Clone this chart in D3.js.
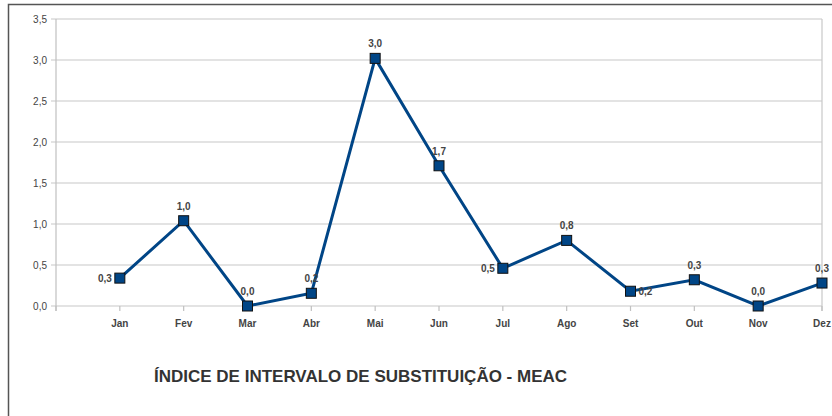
<!DOCTYPE html>
<html><head><meta charset="utf-8">
<script src="https://cdn.jsdelivr.net/npm/d3@7"></script>
<style>body{margin:0;background:#fff;}svg{display:block;font-family:"Liberation Sans",Arial,sans-serif;}</style>
</head><body><svg id="c" width="832" height="416"></svg>
<script>
const months = ["Jan","Fev","Mar","Abr","Mai","Jun","Jul","Ago","Set","Out","Nov","Dez"];
const values = [0.34,1.04,0.0,0.155,3.02,1.71,0.46,0.80,0.18,0.32,0.0,0.28];
const labelPos = ["left","top","top","top","top","top","left","top","right","top","top","top"];
const yTicks = [0,0.5,1,1.5,2,2.5,3,3.5];
const title = "ÍNDICE DE INTERVALO DE SUBSTITUIÇÃO - MEAC";

const svg = d3.select("#c");
const fmt = v => d3.format(".1f")(v).replace(".", ",");

// outer frame
svg.append("rect").attr("x",8.5).attr("y",4.5).attr("width",900).attr("height",500)
  .attr("fill","none").attr("stroke","#555").attr("stroke-width",1.5);

const x = d3.scaleLinear().domain([0,12]).range([56,822]);
const y = d3.scaleLinear().domain([0,3.5]).range([306,19]);

// gridlines
svg.append("g").selectAll("line").data(yTicks).join("line")
  .attr("x1",x(0)-5).attr("x2",x(12)).attr("y1",d=>y(d)).attr("y2",d=>y(d))
  .attr("stroke","#c8c8c8").attr("stroke-width",1.2);
// axes lines
svg.append("line").attr("x1",x(0)).attr("x2",x(0)).attr("y1",y(3.5)).attr("y2",y(0)+5)
  .attr("stroke","#c0c0c0").attr("stroke-width",1.2);
svg.append("line").attr("x1",x(12)).attr("x2",x(12)).attr("y1",y(3.5)).attr("y2",y(0)+5)
  .attr("stroke","#c8c8c8").attr("stroke-width",1.2);
// x ticks
svg.append("g").selectAll("line").data(d3.range(0,13)).join("line")
  .attr("x1",d=>x(d)).attr("x2",d=>x(d)).attr("y1",y(0)).attr("y2",y(0)+5)
  .attr("stroke","#c0c0c0").attr("stroke-width",1.2);

// y tick labels
svg.append("g").selectAll("text").data(yTicks).join("text")
  .attr("x",x(0)-9).attr("y",d=>y(d)+3.5).attr("text-anchor","end")
  .attr("font-size",10).attr("fill","#444").text(d=>fmt(d));

// x labels
svg.append("g").selectAll("text").data(months).join("text")
  .attr("x",(d,i)=>x(i+1)).attr("y",y(0)+21).attr("text-anchor","middle")
  .attr("font-size",10).attr("font-weight","bold").attr("fill","#444").text(d=>d);

// line
const line = d3.line().x((d,i)=>x(i+1)).y(d=>y(d));
svg.append("path").datum(values).attr("d",line).attr("fill","none")
  .attr("stroke","#004586").attr("stroke-width",3).attr("stroke-linejoin","miter");

// markers
svg.append("g").selectAll("rect").data(values).join("rect")
  .attr("x",(d,i)=>x(i+1)-5).attr("y",d=>y(d)-5).attr("width",10).attr("height",10)
  .attr("fill","#004586").attr("stroke","#111").attr("stroke-width",1);

// data labels
svg.append("g").selectAll("text").data(values).join("text")
  .attr("x",(d,i)=> labelPos[i]==="left" ? x(i+1)-8 : labelPos[i]==="right" ? x(i+1)+8 : x(i+1))
  .attr("y",(d,i)=> labelPos[i]==="top" ? y(d)-11 : y(d)+4)
  .attr("text-anchor",(d,i)=> labelPos[i]==="left" ? "end" : labelPos[i]==="right" ? "start" : "middle")
  .attr("font-size",10).attr("font-weight","bold").attr("fill","#444").text(d=>fmt(d));

// title
svg.append("text").attr("x",154).attr("y",382).attr("font-size",17).attr("font-weight","bold")
  .attr("fill","#333").text(title);
</script></body></html>
